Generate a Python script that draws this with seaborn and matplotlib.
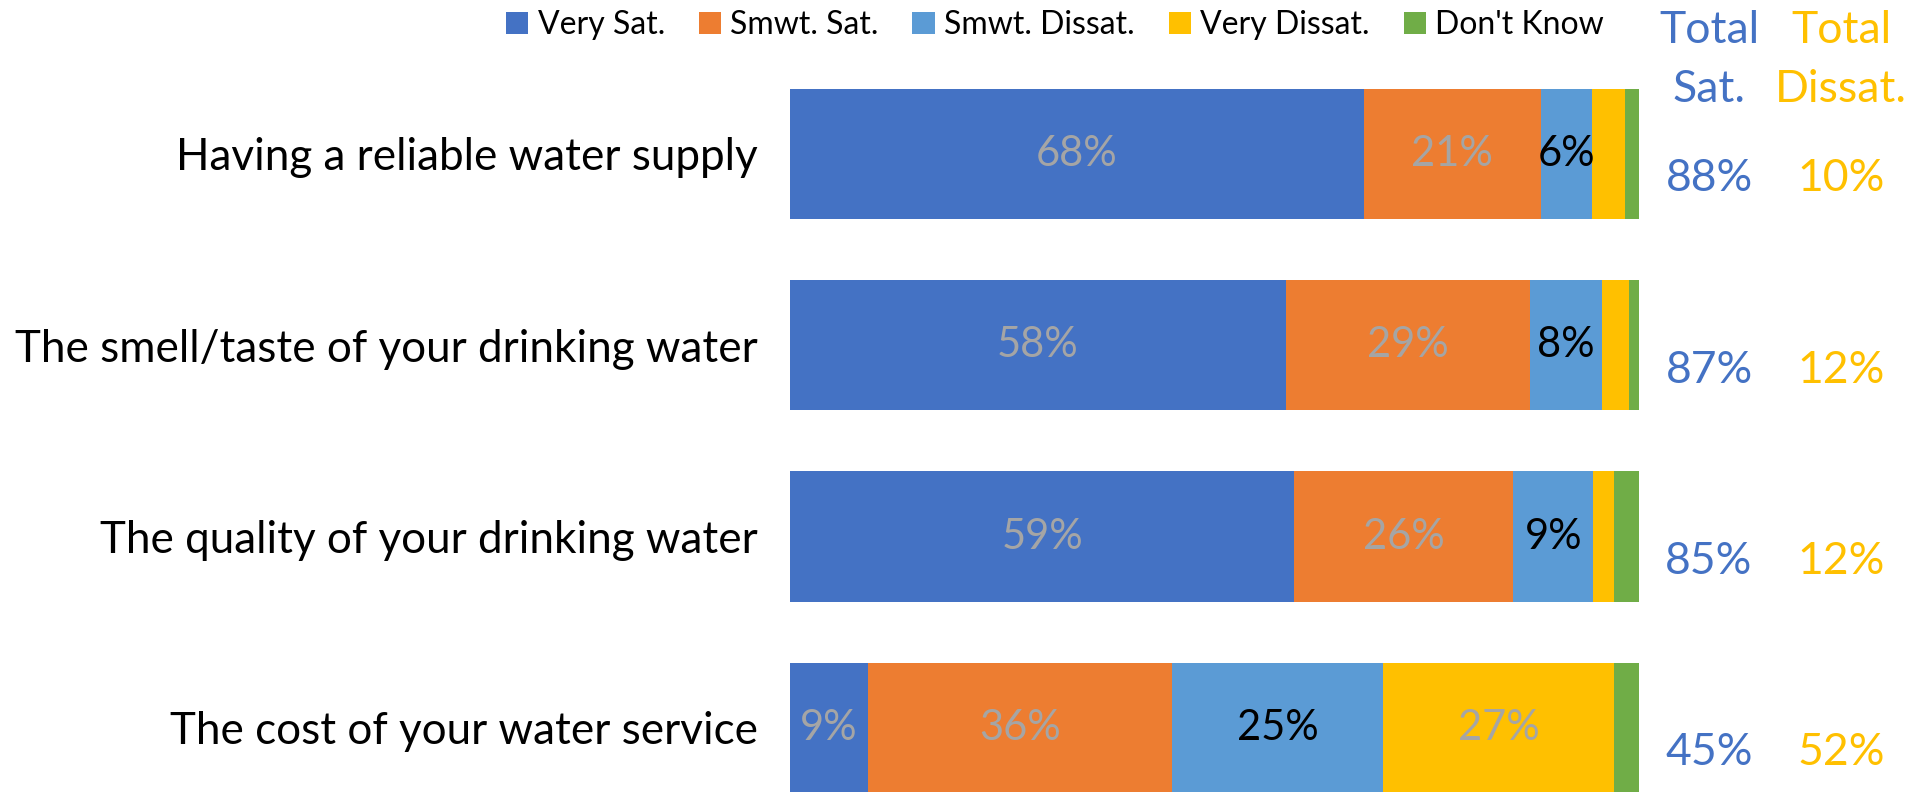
import matplotlib
matplotlib.use("Agg")
import matplotlib.pyplot as plt
from matplotlib.patches import Patch
import seaborn as sns
import pandas as pd
import numpy as np

# Survey items (top to bottom)
categories = [
    "Having a reliable water supply",
    "The smell/taste of your drinking water",
    "The quality of your drinking water",
    "The cost of your water service",
]

# Response shares in percent, one list per answer
segments = ["Very Sat.", "Smwt. Sat.", "Smwt. Dissat.", "Very Dissat.", "Don't Know"]
very_sat = [67.6, 58.4, 59.4, 9.2]
smwt_sat = [20.8, 28.8, 25.8, 35.8]
smwt_dissat = [6.1, 8.4, 9.4, 24.9]
very_dissat = [3.9, 3.2, 2.4, 27.1]
dont_know = [1.6, 1.2, 3.0, 3.0]

colors = ["#4472C4", "#ED7D31", "#5B9BD5", "#FFC000", "#70AD47"]
label_colors = ["#A5A5A5", "#A5A5A5", "#000000", "#A5A5A5", "#A5A5A5"]

sns.set_theme(style="white")
plt.rcParams["font.family"] = ["Lato", "DejaVu Sans"]
plt.rcParams["text.color"] = "black"
plt.rcParams["ytick.color"] = "black"

df = pd.DataFrame({"category": categories})
series = [very_sat, smwt_sat, smwt_dissat, very_dissat, dont_know]
for name, vals in zip(segments, series):
    df[name] = vals
cum = df[segments].cumsum(axis=1)

W, H = 1918, 792
fig = plt.figure(figsize=(W / 100, H / 100), dpi=100)
ax = fig.add_axes([790 / W, 0, 849 / W, 734 / H])

# Stacked bars: draw cumulative totals from the outermost segment inward
for i in reversed(range(len(segments))):
    plot_df = pd.DataFrame({"category": categories, "value": cum[segments[i]]})
    sns.barplot(data=plot_df, x="value", y="category", orient="h",
                color=colors[i], saturation=1, width=0.68, ax=ax,
                linewidth=0, errorbar=None)

# Segment value labels
for i, name in enumerate(segments):
    for r in range(len(categories)):
        v = df[name][r]
        if v >= 5:
            mid = cum[name][r] - v / 2
            ax.text(mid, r, f"{v:.0f}%", ha="center", va="center",
                    fontsize=30, color=label_colors[i])

ax.set_xlim(0, 100)
ax.set_ylim(3 + 64 / 191.3, -0.5)
ax.set_xlabel("")
ax.set_ylabel("")
ax.set_xticks([])
ax.tick_params(axis="y", length=0, pad=23, labelsize=31.7, labelcolor="black")
for s in ax.spines.values():
    s.set_visible(False)

# Total satisfied / dissatisfied columns
total_sat = [a + b for a, b in zip(very_sat, smwt_sat)]
total_dissat = [a + b for a, b in zip(smwt_dissat, very_dissat)]
tr = ax.get_yaxis_transform()
for r in range(len(categories)):
    ax.text((1709 - 790) / 849, r + 0.13, f"{total_sat[r]:.0f}%", transform=tr,
            ha="center", va="center", fontsize=32, color="#4472C4")
    ax.text((1841 - 790) / 849, r + 0.13, f"{total_dissat[r]:.0f}%", transform=tr,
            ha="center", va="center", fontsize=32, color="#FFC000")

fig.text(1709 / W, 1 - 60 / H, "Total\nSat.", ha="center", va="center",
         fontsize=32, color="#4472C4", linespacing=1.55)
fig.text(1841 / W, 1 - 60 / H, "Total\nDissat.", ha="center", va="center",
         fontsize=32, color="#FFC000", linespacing=1.55)

handles = [Patch(facecolor=c, edgecolor="none", label=n) for c, n in zip(colors, segments)]
fig.legend(handles=handles, loc="center", bbox_to_anchor=(1055 / W, 1 - 25 / H),
           ncol=5, frameon=False, fontsize=23, handlelength=0.7, handleheight=0.7,
           handletextpad=0.3, columnspacing=1.05, labelcolor="black")

fig.savefig("out.png", dpi=100)
